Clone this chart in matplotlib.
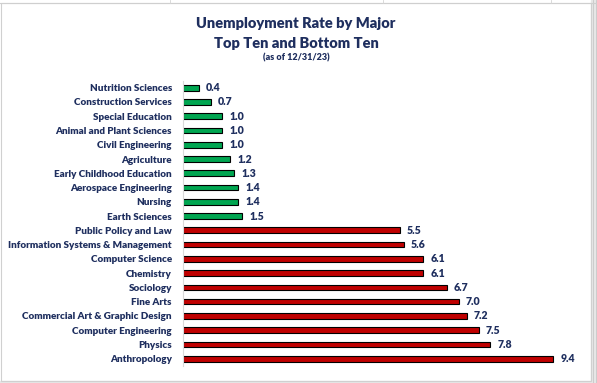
import matplotlib.pyplot as plt
from matplotlib.lines import Line2D
from matplotlib.patches import Rectangle

majors = ["Nutrition Sciences", "Construction Services", "Special Education",
          "Animal and Plant Sciences", "Civil Engineering", "Agriculture",
          "Early Childhood Education", "Aerospace Engineering", "Nursing",
          "Earth Sciences",
          "Public Policy and Law", "Information Systems & Management",
          "Computer Science", "Chemistry", "Sociology", "Fine Arts",
          "Commercial Art & Graphic Design", "Computer Engineering",
          "Physics", "Anthropology"]
rates = [0.4, 0.7, 1.0, 1.0, 1.0, 1.2, 1.3, 1.4, 1.4, 1.5,
         5.5, 5.6, 6.1, 6.1, 6.7, 7.0, 7.2, 7.5, 7.8, 9.4]
group = ["top"] * 10 + ["bottom"] * 10

navy = "#1F2F5F"
bar_colors = {"top": "#00A651", "bottom": "#C00000"}

plt.rcParams['font.family'] = ['Lato', 'DejaVu Sans']

W, H = 597, 383
fig = plt.figure(figsize=(W / 100, H / 100), dpi=100)

# spreadsheet background outside the chart box
fig.patches.append(Rectangle((591 / W, 0), 1, 1, transform=fig.transFigure,
                             color="#E6E6E6", zorder=0))
fig.patches.append(Rectangle((0, 0), 1, 2 / H, transform=fig.transFigure,
                             color="#E6E6E6", zorder=0))
for xx in [593, 596]:
    fig.lines.append(Line2D([xx / W] * 2, [0, 1], transform=fig.transFigure,
                            color="#C8C8C8", lw=0.6))
fig.lines.append(Line2D([0, 1], [1 - 3 / H] * 2, transform=fig.transFigure,
                        color="#CFCFCF", lw=0.8))
for xx in [170, 383, 551]:
    fig.lines.append(Line2D([xx / W] * 2, [1 - 3 / H, 1], transform=fig.transFigure,
                            color="#D5D5D5", lw=0.6))
fig.patches.append(Rectangle((1 / W, 2 / H), 590 / W, (H - 5) / H,
                             transform=fig.transFigure, fill=False,
                             edgecolor="#D0D0D0", lw=0.8))

ax = fig.add_axes([183 / W, (383 - 365.8) / H, 394 / W, 285.2 / H])

y = list(range(len(majors)))
cols = [bar_colors[g] for g in group]
ax.barh(y, rates, height=0.4, color=cols, edgecolor="black", linewidth=0.8)
for yi, v in zip(y, rates):
    ax.text(v + 0.18, yi, f"{v:.1f}", va="center", ha="left",
            fontsize=7.6, fontweight="heavy", color=navy)

ax.set_xlim(0, 10)
ax.set_ylim(len(majors) - 0.5, -0.5)
ax.set_yticks(y)
ax.set_yticklabels(majors, fontsize=7.1, fontweight="heavy", color=navy)
ax.tick_params(axis="y", length=0, pad=8)
ax.set_xticks([])
for s in ["top", "right", "bottom"]:
    ax.spines[s].set_visible(False)
ax.spines["left"].set_color("#D9D9D9")
ax.spines["left"].set_linewidth(0.8)

fig.text(296 / W, 1 - 24 / H, "Unemployment Rate by Major", ha="center",
         va="center", fontsize=10.5, fontweight="heavy", color=navy)
fig.text(296 / W, 1 - 44 / H, "Top Ten and Bottom Ten", ha="center",
         va="center", fontsize=10.5, fontweight="heavy", color=navy)
fig.text(296 / W, 1 - 58 / H, "(as of 12/31/23)", ha="center",
         va="center", fontsize=6.5, fontweight="heavy", color=navy)

fig.savefig("out.png", dpi=100)
